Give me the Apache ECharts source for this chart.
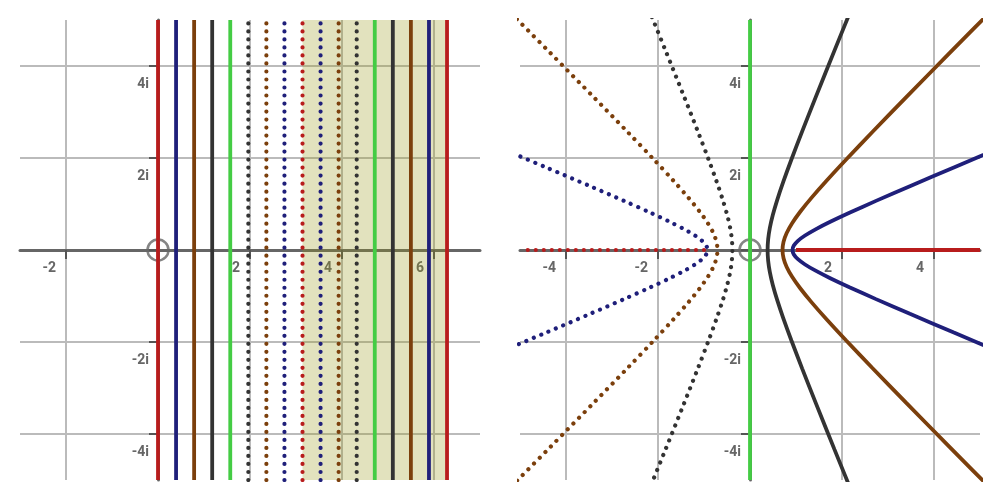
<!DOCTYPE html>
<html><head><meta charset="utf-8">
<script src="https://cdn.jsdelivr.net/npm/echarts@6/dist/echarts.min.js"></script>
<style>html,body{margin:0;padding:0;background:#fff}#c{width:1000px;height:500px}</style>
</head><body><div id="c"></div>
<script>
// ---------------- DATA ----------------
// Left panel: vertical lines Re z = c (multiples of pi/8)
const leftLineX = [0, 0.3927, 0.7854, 1.1781, 1.5708, 1.9635, 2.3562, 2.7489, 3.1416,
                   3.5343, 3.9270, 4.3197, 4.7124, 5.1051, 5.4978, 5.8905, 6.2832];
// shaded strip on the left panel (x from .. to)
const shadeX = [3.1416, 6.2832];
// axis ranges
const leftXRange = [-3, 7];
const leftYRange = [-5, 5];
const rightXRange = [-5, 5];
const rightYRange = [-5, 5];
// grid / tick values and tick labels
const leftXTicks = [-2, 0, 2, 4, 6];
const leftXLabels = [-2, 2, 4, 6];
const yTicks = [-4, -2, 0, 2, 4];
const yLabels = [-4, -2, 2, 4];
const rightXTicks = [-4, -2, 0, 2, 4];
const rightXLabels = [-4, -2, 2, 4];
// origin marker
const origin = [[0, 0]];

// Right panel: hyperbola branches (upper half, u and v), lower half is the mirror image
const hypBlueU  = [0.9239, 0.9529, 1.0418, 1.1961, 1.4256, 1.7447, 2.1733, 2.7386, 3.4758, 4.4315, 5.6655];
const hypBlueV  = [0, 0.0967, 0.1994, 0.3147, 0.4497, 0.6130, 0.8149, 1.0678, 1.3879, 1.7952, 2.3153];
const hypBrownU = [0.7071, 0.7293, 0.7973, 0.9155, 1.0911, 1.3353, 1.6634, 2.0960, 2.6603, 3.3917, 4.3362, 5.5532];
const hypBrownV = [0, 0.1786, 0.3685, 0.5815, 0.8310, 1.1327, 1.5056, 1.9731, 2.5646, 3.3172, 4.2781, 5.5080];
const hypBlackU = [0.3827, 0.3947, 0.4315, 0.4955, 0.5905, 0.7227, 0.9002, 1.1343, 1.4397, 1.8356, 2.3467];
const hypBlackV = [0, 0.2334, 0.4814, 0.7597, 1.0857, 1.4800, 1.9672, 2.5780, 3.3508, 4.3341, 5.5897];
const hypBlueDotU  = [-0.9239, -0.9529, -1.0418, -1.1961, -1.4256, -1.7447, -2.1733, -2.7386, -3.4758, -4.4315, -5.6655];
const hypBlueDotV  = [0, 0.0967, 0.1994, 0.3147, 0.4497, 0.6130, 0.8149, 1.0678, 1.3879, 1.7952, 2.3153];
const hypBrownDotU = [-0.7071, -0.7293, -0.7973, -0.9155, -1.0911, -1.3353, -1.6634, -2.0960, -2.6603, -3.3917, -4.3362, -5.5532];
const hypBrownDotV = [0, 0.1786, 0.3685, 0.5815, 0.8310, 1.1327, 1.5056, 1.9731, 2.5646, 3.3172, 4.2781, 5.5080];
const hypBlackDotU = [-0.3827, -0.3947, -0.4315, -0.4955, -0.5905, -0.7227, -0.9002, -1.1343, -1.4397, -1.8356, -2.3467];
const hypBlackDotV = [0, 0.2334, 0.4814, 0.7597, 1.0857, 1.4800, 1.9672, 2.5780, 3.3508, 4.3341, 5.5897];
// rays / straight images
const rayRed    = [[1, 0], [5, 0]];
const rayRedDot = [[-1, 0], [-5, 0]];
const lineGreen = [[0, -5], [0, 5]];

// ---------------- STYLE / LAYOUT ----------------
const C = { red: '#b81c1c', blue: '#1f1f7a', brown: '#7b3f0c', black: '#333333', green: '#44cc44' };
const leftLineStyleKey = ['red','blue','brown','black','green','black','brown','blue','red',
                          'blue','brown','black','green','black','brown','blue','red'];
const leftLineDotted = [0,0,0,0,0,1,1,1,1,1,1,1,0,0,0,0,0];
const GRID_W = 460, GRID_H = 460, TOP = 20;
const LW = 3.8;
function ls(color, dotted) {
  return dotted ? { color, width: 4.2, type: [0.01, 8], cap: 'round' }
                : { color, width: LW };
}
function branch(U, V) {
  const pts = [];
  for (let i = U.length - 1; i >= 1; i--) pts.push([U[i], -V[i]]);
  for (let i = 0; i < U.length; i++) pts.push([U[i], V[i]]);
  return pts;
}
// offset that places an axis on the zero line of the other axis
function zeroOffset(range, size) { return -size * (0 - range[0]) / (range[1] - range[0]); }

const labelFont = { color: '#666', fontWeight: 'bold', fontSize: 14, fontFamily: 'Roboto, Arial, sans-serif' };

function xAxis(gi, range, yRange, ticks, labels) {
  return {
    type: 'value', gridIndex: gi, min: range[0], max: range[1], position: 'bottom',
    offset: zeroOffset(yRange, GRID_H),
    axisLine: { onZero: false, lineStyle: { color: '#666', width: 3 } },
    axisTick: { show: true, customValues: ticks, length: 9, lineStyle: { color: '#555', width: 2 } },
    axisLabel: Object.assign({ customValues: labels, formatter: v => String(v),
      align: 'right', verticalAlign: 'top', margin: 11, padding: [0, 10, 0, 0] }, labelFont),
    splitLine: { show: true, lineStyle: { color: '#bbb', width: 2 } }
  };
}
function yAxis(gi, range, xRange, ticks, labels) {
  return {
    type: 'value', gridIndex: gi, min: range[0], max: range[1], position: 'left',
    offset: zeroOffset(xRange, GRID_W),
    axisLine: { onZero: false, lineStyle: { color: '#666', width: 3 } },
    axisTick: { show: true, customValues: ticks, length: 9, lineStyle: { color: '#555', width: 2 } },
    axisLabel: Object.assign({ customValues: labels, formatter: v => v + 'i',
      align: 'right', verticalAlign: 'top', margin: 9, padding: [11, 0, 0, 0] }, labelFont),
    splitLine: { show: true, lineStyle: { color: '#bbb', width: 2 } }
  };
}

const series = [];
// shaded strip
series.push({
  type: 'line', xAxisIndex: 0, yAxisIndex: 0, data: [], silent: true,
  markArea: { silent: true, itemStyle: { color: 'rgba(150,150,20,0.28)' },
    data: [[{ xAxis: shadeX[0] }, { xAxis: shadeX[1] }]] }
});
// origin circles
[0, 1].forEach(gi => series.push({
  type: 'scatter', xAxisIndex: gi, yAxisIndex: gi, data: origin, symbol: 'circle', symbolSize: 21, z: 2,
  itemStyle: { color: 'rgba(0,0,0,0)', borderColor: '#666', borderWidth: 2.5 }, silent: true
}));
// left vertical lines
leftLineX.forEach((x, i) => series.push({
  type: 'line', xAxisIndex: 0, yAxisIndex: 0, z: 3, symbol: 'none', silent: true,
  data: [[x, leftYRange[0]], [x, leftYRange[1]]],
  lineStyle: ls(C[leftLineStyleKey[i]], leftLineDotted[i])
}));
// right panel curves
const rightCurves = [
  [lineGreen, 'green', 0],
  [rayRed, 'red', 0],
  [rayRedDot, 'red', 1],
  [branch(hypBlueU, hypBlueV), 'blue', 0],
  [branch(hypBrownU, hypBrownV), 'brown', 0],
  [branch(hypBlackU, hypBlackV), 'black', 0],
  [branch(hypBlueDotU, hypBlueDotV), 'blue', 1],
  [branch(hypBrownDotU, hypBrownDotV), 'brown', 1],
  [branch(hypBlackDotU, hypBlackDotV), 'black', 1]
];
rightCurves.forEach(([pts, col, dot]) => series.push({
  type: 'line', xAxisIndex: 1, yAxisIndex: 1, z: 3, symbol: 'none', silent: true, smooth: pts.length > 2 ? 0.3 : false,
  data: pts, lineStyle: ls(C[col], dot)
}));

const chart = echarts.init(document.getElementById('c'), null, { renderer: 'canvas' });
chart.setOption({
  animation: false,
  backgroundColor: '#fff',
  grid: [
    { left: 20, top: TOP, width: GRID_W, height: GRID_H, containLabel: false, outerBoundsMode: 'none' },
    { left: 520, top: TOP, width: GRID_W, height: GRID_H, containLabel: false, outerBoundsMode: 'none' }
  ],
  xAxis: [xAxis(0, leftXRange, leftYRange, leftXTicks, leftXLabels), xAxis(1, rightXRange, rightYRange, rightXTicks, rightXLabels)],
  yAxis: [yAxis(0, leftYRange, leftXRange, yTicks, yLabels), yAxis(1, rightYRange, rightXRange, yTicks, yLabels)],
  series
});
</script></body></html>
